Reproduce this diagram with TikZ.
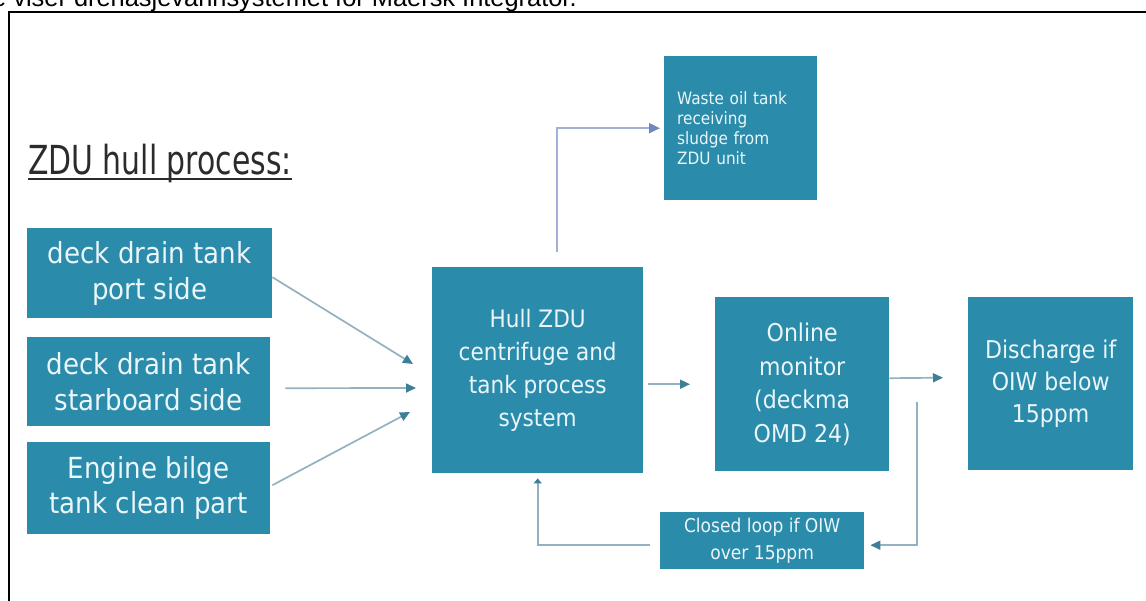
\documentclass[tikz,border=0pt]{standalone}
\usepackage{fontspec}
\setmainfont{DejaVu Sans Condensed}
\newfontfamily\capfont{Liberation Sans}
\usetikzlibrary{arrows.meta}
\definecolor{boxc}{HTML}{2A8BAB}
\definecolor{linec}{HTML}{93B1BF}
\definecolor{tipc}{HTML}{3D7E98}
\definecolor{wlinec}{HTML}{A2B0D6}
\definecolor{wtipc}{HTML}{6F88BE}
\definecolor{txtc}{HTML}{EAF6F9}
\definecolor{titlec}{HTML}{2B2B2B}
\begin{document}
\begin{tikzpicture}[x=1pt,y=-1pt,
  box/.style={fill=boxc, text=txtc, align=center, anchor=north west, inner sep=0pt},
  conn/.style={draw=linec, line width=1.7pt, -{Triangle[length=10pt,width=9pt,color=tipc]}},
  smallconn/.style={draw=linec, line width=1.7pt, -{Triangle[length=5pt,width=8pt,color=tipc]}},
  wconn/.style={draw=wlinec, line width=2pt, -{Triangle[length=11pt,width=10pt,color=wtipc]}},
]
\useasboundingbox (0,0) rectangle (1146,601);
\begin{scope}
  \clip (0,0) rectangle (1146,601);
  \node[font=\capfont\fontsize{25.4}{30}\selectfont, anchor=base west, inner sep=0pt] (cap) at (-8,7) {e viser drenasjevannsystemet for Maersk Integrator.};
  \draw[line width=2pt] (8.5,640) -- (8.5,12.5) -- (1170,12.5);
\end{scope}

% title
\node[anchor=base west, inner sep=0pt, text=titlec, font=\fontsize{40}{44}\selectfont] (title) at (28,175) {\scalebox{0.83}[1]{ZDU hull process:}};
\draw[titlec, line width=1.8pt] (title.base west) ++(0,4) coordinate (ul1) -- ++(264,0) coordinate (ul2);

% boxes
\node[box, minimum width=245pt, minimum height=90pt, font=\fontsize{29}{36}\selectfont] (b1) at (27,228) {deck drain tank\\port side};
\node[box, minimum width=243pt, minimum height=89pt, font=\fontsize{29}{36}\selectfont] (b2) at (27,337) {deck drain tank\\starboard side};
\node[box, minimum width=243pt, minimum height=92pt, font=\fontsize{29}{35}\selectfont] (b3) at (27,442) {Engine bilge\\tank clean part};
\node[box, minimum width=211pt, minimum height=206pt, font=\fontsize{24}{33}\selectfont] (hull) at (432,267) {Hull ZDU\\centrifuge and\\tank process\\system};
\node[box, minimum width=174pt, minimum height=174pt, font=\fontsize{24.5}{33.5}\selectfont] (online) at (715,297) {Online\\monitor\\(deckma\\OMD 24)};
\node[box, minimum width=165pt, minimum height=173pt, font=\fontsize{24.5}{32}\selectfont] (dis) at (968,297) {Discharge if\\OIW below\\15ppm};
\node[box, align=left, text width=127pt, inner xsep=13pt, minimum height=144pt, font=\fontsize{17}{20}\selectfont] (waste) at (664,56) {Waste oil tank\\receiving\\sludge from\\ZDU unit};
\node[box, minimum width=204pt, minimum height=57pt, font=\fontsize{19}{27}\selectfont] (closed) at (660,512) {Closed loop if OIW\\over 15ppm};

% connectors
\coordinate (i1) at (413,364);
\coordinate (i2) at (416,388);
\coordinate (i3) at (410,412);
\coordinate (lp) at (917,402);
\draw[conn] ([yshift=-4pt]b1.east) -- (i1);
\draw[conn] ([xshift=15pt,yshift=-6.5pt]b2.east) -- (i2);
\draw[conn] ([xshift=2pt,yshift=3pt]b3.east) -- (i3);
\draw[conn] ([xshift=5pt]hull.east |- online.west) -- ([xshift=-25pt]online.west);
\draw[conn] ([yshift=6pt]online.east) -- ([xshift=-25pt,yshift=6pt]dis.west);
\draw[conn] (lp) |- ([xshift=6pt,yshift=-4.5pt]closed.east);
\draw[smallconn] ([xshift=-10pt,yshift=-4.5pt]closed.west) -| ([yshift=-5pt]hull.south);
\draw[wconn] ([xshift=19.5pt,yshift=15pt]hull.north) |- ([xshift=-4pt]waste.west);
\end{tikzpicture}
\end{document}
